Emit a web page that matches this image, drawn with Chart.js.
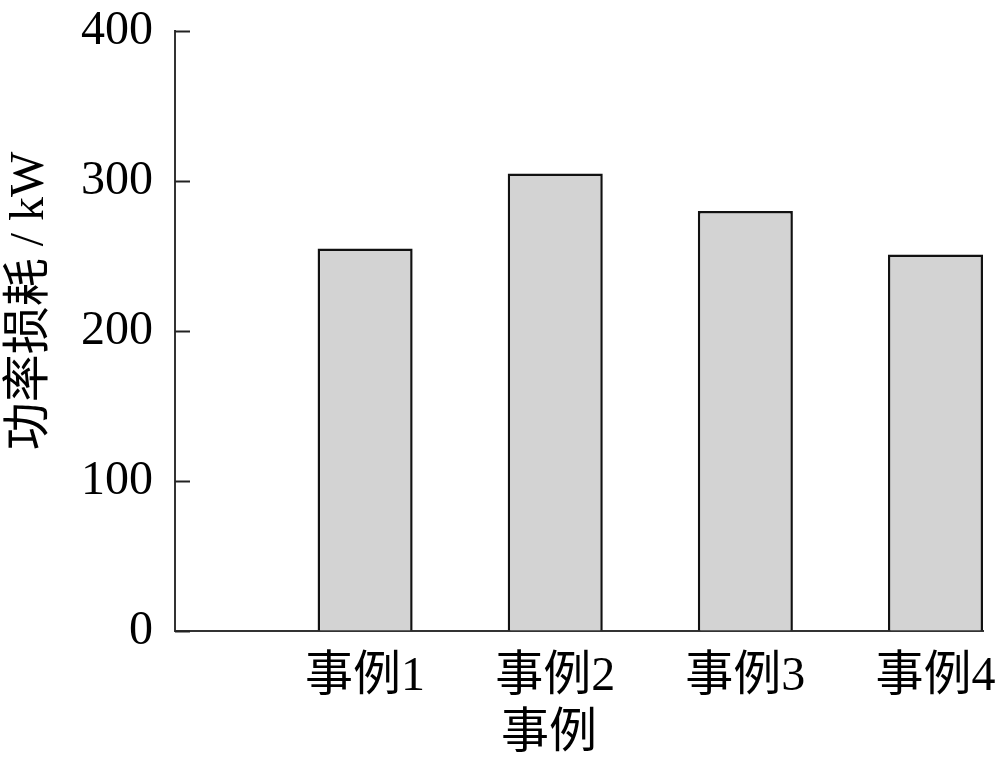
<!DOCTYPE html>
<html>
<head>
<meta charset="utf-8">
<script src="https://cdn.jsdelivr.net/npm/chart.js@4/dist/chart.umd.min.js"></script>
<style>
  html, body { margin: 0; padding: 0; background: #fff; }
  #wrap { width: 1000px; height: 763px; }
</style>
</head>
<body>
<div id="wrap"><canvas id="lossChart"></canvas></div>
<script>
// data
const caseLabels = ['事例1', '事例2', '事例3', '事例4'];
const casePositions = [1, 2, 3, 4];
const powerLoss = [255, 305, 280, 251];
const yTickValues = [0, 100, 200, 300, 400];

const fontFamily = "'Liberation Serif', 'Noto Sans CJK SC', serif";

// inward tick marks on the y axis
const inwardTicks = {
    id: 'inwardTicks',
    afterDraw(chart) {
        const ctx = chart.ctx;
        const y = chart.scales.y;
        ctx.save();
        ctx.strokeStyle = '#222';
        ctx.lineWidth = 2;
        y.ticks.forEach(t => {
            const py = Math.round(y.getPixelForValue(t.value)) + 0.5;
            ctx.beginPath();
            ctx.moveTo(y.right, py);
            ctx.lineTo(y.right + 15, py);
            ctx.stroke();
        });
        ctx.restore();
    }
};

const ctx = document.getElementById('lossChart').getContext('2d');
const lossChart = new Chart(ctx, {
    type: 'bar',
    data: {
        datasets: [{
            data: casePositions.map((x, i) => ({ x: x, y: powerLoss[i] })),
            backgroundColor: '#d3d3d3',
            borderColor: '#111',
            borderWidth: 2.5,
            categoryPercentage: 1,
            barPercentage: 0.5
        }]
    },
    options: {
        responsive: true,
        maintainAspectRatio: false,
        animation: false,
        layout: { padding: { top: 31, right: 17, left: 0, bottom: 0 } },
        plugins: {
            legend: { display: false },
            tooltip: { enabled: false }
        },
        scales: {
            x: {
                type: 'linear',
                min: 0,
                max: 4.25,
                offset: false,
                afterBuildTicks: (scale) => {
                    scale.ticks = casePositions.map(v => ({ value: v }));
                },
                afterFit: (scale) => {
                    scale.height = 132;
                    scale.paddingLeft = 0;
                    scale.paddingRight = 0;
                },
                ticks: {
                    autoSkip: false,
                    maxRotation: 0,
                    padding: 18,
                    color: '#000',
                    font: { family: fontFamily, size: 48 },
                    callback: (v) => caseLabels[casePositions.indexOf(v)]
                },
                grid: { display: true, drawOnChartArea: false, drawTicks: false },
                border: { display: true, color: '#333', width: 2 },
                title: {
                    display: true,
                    // trailing spaces nudge the centred title left, as in the source
                    text: '事例     ',
                    color: '#000',
                    font: { family: fontFamily, size: 48 },
                    padding: { top: 0, bottom: 0 }
                }
            },
            y: {
                min: 0,
                max: 400,
                afterBuildTicks: (scale) => {
                    scale.ticks = yTickValues.map(v => ({ value: v }));
                },
                afterFit: (scale) => {
                    scale.width = 175;
                    scale.paddingTop = 0;
                    scale.paddingBottom = 0;
                },
                ticks: {
                    padding: 22,
                    color: '#000',
                    font: { family: fontFamily, size: 48 }
                },
                grid: { display: true, drawOnChartArea: false, drawTicks: false },
                border: { display: true, color: '#333', width: 2 },
                title: {
                    display: true,
                    // leading spaces lift the rotated title a little
                    text: '     功率损耗 / kW',
                    color: '#000',
                    font: { family: fontFamily, size: 48 },
                    padding: { top: 2, bottom: 0 }
                }
            }
        }
    },
    plugins: [inwardTicks]
});
</script>
</body>
</html>
